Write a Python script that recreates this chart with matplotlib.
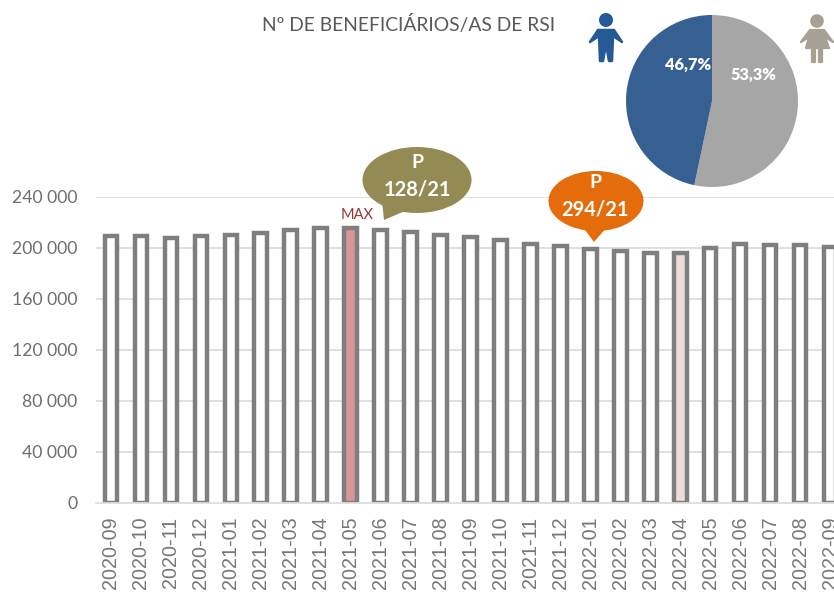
import matplotlib
matplotlib.use("Agg")
import matplotlib.pyplot as plt
from matplotlib.patches import Ellipse, Polygon, Circle

W, H = 834, 595
months = ["2020-09","2020-10","2020-11","2020-12","2021-01","2021-02","2021-03","2021-04","2021-05",
          "2021-06","2021-07","2021-08","2021-09","2021-10","2021-11","2021-12","2022-01","2022-02",
          "2022-03","2022-04","2022-05","2022-06","2022-07","2022-08","2022-09"]
beneficiaries = [209300,208800,207800,208800,209500,211500,214000,215000,215500,214000,212000,210000,
                 208000,205500,203000,201500,199000,197500,196000,195500,199500,203000,202000,202000,200500]
yticks = [0,40000,80000,120000,160000,200000,240000]
ytick_labels = ["0","40 000","80 000","120 000","160 000","200 000","240 000"]
pie_labels = ["53,3%","46,7%"]
pie_values = [53.3,46.7]
title = "Nº DE BENEFICIÁRIOS/AS DE RSI"
max_month = "2021-05"
min_month = "2022-04"

fig = plt.figure(figsize=(W/100, H/100), dpi=100, facecolor="white")

left, right, top, bottom = 96, 834, 196.5, 502.5
ax = fig.add_axes([left/W, 1-bottom/H, (right-left)/W, (bottom-top)/H])
ax.set_xlim(-0.5, -0.5 + (right-left)/29.96)
ax.set_ylim(0, 240000)
ax.set_facecolor("none")
colors = ["#DA9694" if m == max_month else "#F2DCDB" if m == min_month else "white" for m in months]
ax.grid(axis="y", color="#DDDDDD", lw=1.3)
ax.set_axisbelow(True)
ax.bar(range(len(months)), beneficiaries, width=0.42, color=colors, edgecolor="#7F7F7F", linewidth=3.2)
for s in ["top","right","left"]:
    ax.spines[s].set_visible(False)
ax.spines["bottom"].set_color("#DDDDDD")
ax.spines["bottom"].set_linewidth(1.3)
ax.set_yticks(yticks, ytick_labels, fontsize=12.7, color="#6E6E6E", family="Lato")
ax.set_xticks(range(len(months)), months, rotation=90, fontsize=14.2, color="#777777", family="Liberation Sans")
ax.tick_params(axis="both", length=0)
ax.tick_params(axis="y", pad=13.5)
ax.tick_params(axis="x", pad=10)

ov = fig.add_axes([0, 0, 1, 1], facecolor="none")
ov.set_xlim(0, W)
ov.set_ylim(H, 0)
ov.axis("off")
ov.set_zorder(3)

ov.text(409, 24, title, ha="center", va="center", fontsize=13.9, color="#595959", family="Lato")
ov.text(357, 215, "MAX", ha="center", va="center", fontsize=10.5, color="#953735", family="Lato")

olive = "#948A54"
ov.add_patch(Ellipse((417, 180), 109, 66, color=olive, lw=0))
ov.add_patch(Polygon([(382, 200), (384, 220), (412, 208)], color=olive, lw=0))
ov.text(417, 162, "P", ha="center", va="center", fontsize=14, color="white", weight="bold", family="Lato")
ov.text(417, 190, "128/21", ha="center", va="center", fontsize=14.5, color="white", weight="bold", family="Lato")

orange = "#E46C0A"
ov.add_patch(Ellipse((596, 201), 95, 60, color=orange, lw=0))
ov.add_patch(Polygon([(582, 226), (594, 242), (608, 226)], color=orange, lw=0))
ov.text(595, 182, "P", ha="center", va="center", fontsize=14, color="white", weight="bold", family="Lato")
ov.text(595, 210, "294/21", ha="center", va="center", fontsize=14.5, color="white", weight="bold", family="Lato")

blue = "#245A96"
ov.add_patch(Circle((606, 20), 7, color=blue, lw=0))
ov.add_patch(Polygon([(598,30),(614,30),(622,42),(613,36),(612,61),(609,61),(606,44),(603,61),(600,61),(599,36),(590,42)],
                     closed=True, facecolor=blue, edgecolor=blue, lw=1.8, joinstyle="round"))
taupe = "#A5A195"
ov.add_patch(Circle((817, 21), 6.8, color=taupe, lw=0))
ov.add_patch(Polygon([(810,30),(824,30),(833,42),(825,37),(829,48),(822,48),(822,62),(819,62),(819,48),(815,48),(815,62),(812,62),(812,48),(806,48),(809,37),(801,42)],
                     closed=True, facecolor=taupe, edgecolor=taupe, lw=1.6, joinstyle="round"))

cx, cy, r = 712, 101, 86
pa = fig.add_axes([(cx-r)/W, 1-(cy+r)/H, 2*r/W, 2*r/H])
pa.pie(pie_values, colors=["#A6A6A6", "#376092"], startangle=90, counterclock=False, radius=1.0)
pa.set_xlim(-1, 1)
pa.set_ylim(-1, 1)
pa.set_zorder(2)
ov.text(753, 75, pie_labels[0], ha="center", va="center", fontsize=11.8, color="white", weight="heavy", family="Lato")
ov.text(688, 65, pie_labels[1], ha="center", va="center", fontsize=11.8, color="white", weight="heavy", family="Lato")

fig.savefig("out.png", dpi=100)
